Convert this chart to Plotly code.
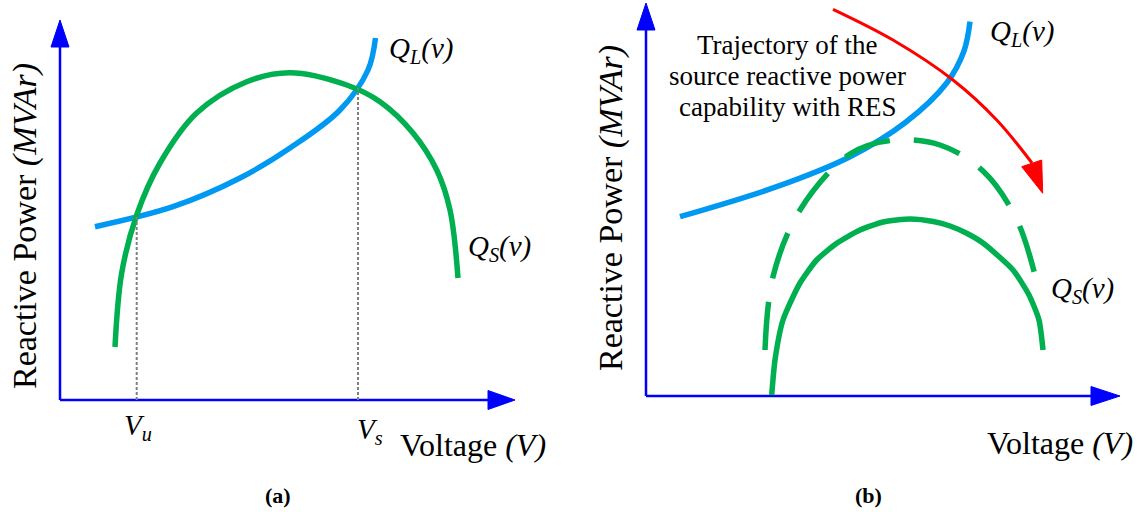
import plotly.graph_objects as go

# ---------------- data (arbitrary units, origin at the axes corner) ----------
# Panel (a)
ql_a_v = [35, 113, 180, 230, 280, 308, 315.5]
ql_a_q = [173.3, 193.3, 222, 252, 290, 330, 362]
qs_a_v = [55, 61.7, 76.7, 100, 136.7, 186.7, 230, 286.7, 320, 353, 376.7, 390, 398]
qs_a_q = [53, 127, 185, 237, 287, 318.3, 327.3, 315, 298.3, 267, 230, 190, 122]
v_u = 76.7
v_s = 298
q_u = 184
q_s = 312

# Panel (b)
ql_b_v = [34, 130.7, 204, 260, 300.7, 318, 324]
ql_b_q = [179.3, 209.3, 239.3, 274, 313, 345, 374.3]
qs_res_v = [119, 127, 154, 204, 245, 294, 337, 370, 389]
qs_res_q = [46, 119.3, 186, 242, 255.5, 251, 225, 178, 121]
qs_b_v = [125.7, 129, 137, 154, 170.7, 190.7, 214, 237.3, 264, 287.3, 304, 320.7, 337.3, 367, 383, 393, 397]
qs_b_q = [1, 36, 76, 113, 136, 152.7, 166, 174, 177, 174.5, 170, 162.7, 152.7, 126, 101, 76, 46]
traj_v = [187, 247, 307, 350.7, 386]
traj_q = [386.7, 356, 316, 276, 233]
head_v = [375.7, 395.7, 396.7, 375.7]
head_q = [229.3, 236, 202.7, 229.3]

# ---------------- styles ----------------
AX = "#0000FF"
BLUE = "#0099F2"
GREEN = "#00AF50"
RED = "#FF0000"
GRAY = "#7F7F7F"
FONT = "Liberation Serif"

fig = go.Figure()


def line(x, y, color, width, xa, ya, dash=None, shape="linear", smooth=1.0):
    fig.add_trace(go.Scatter(x=x, y=y, mode="lines", xaxis=xa, yaxis=ya,
                             line=dict(color=color, width=width, dash=dash, shape=shape, smoothing=smooth),
                             hoverinfo="skip", showlegend=False))


def tri(x, y, color, xa, ya):
    fig.add_trace(go.Scatter(x=x, y=y, mode="lines", fill="toself", fillcolor=color, xaxis=xa, yaxis=ya,
                             line=dict(color=color, width=1), hoverinfo="skip", showlegend=False))


# axes arrows
def axes_arrows(xa, ya, ytop, ybase, xtip, xbase):
    line([0, 0], [0, ybase], AX, 2.5, xa, ya)
    tri([-9, 9, 0, -9], [ybase, ybase, ytop, ybase], AX, xa, ya)
    line([0, xbase], [0, 0], AX, 2.5, xa, ya)
    tri([xbase, xbase, xtip, xbase], [9.5, -9.5, 0, 9.5], AX, xa, ya)


axes_arrows("x", "y", 380, 353, 455, 428)
axes_arrows("x2", "y2", 393, 366, 474, 445)

# panel a curves
line(ql_a_v, ql_a_q, BLUE, 5.5, "x", "y", shape="spline")
line(qs_a_v, qs_a_q, GREEN, 5.5, "x", "y", shape="spline")
line([v_u, v_u], [0, q_u], GRAY, 2, "x", "y", dash="3px,2px")
line([v_s, v_s], [0, q_s], GRAY, 2, "x", "y", dash="3px,2px")

# panel b curves
line(ql_b_v, ql_b_q, BLUE, 5.5, "x2", "y2", shape="spline")
line(qs_res_v, qs_res_q, GREEN, 5.5, "x2", "y2", dash="48px,24px", shape="spline")
line(qs_b_v, qs_b_q, GREEN, 5.5, "x2", "y2", shape="spline", smooth=0.6)
line(traj_v, traj_q, RED, 3, "x2", "y2", shape="spline")
tri(head_v, head_q, RED, "x2", "y2")

# ---------------- text ----------------
ann = []


def text(t, x, y, xr, yr, size=29, angle=0):
    ann.append(dict(text=t, x=x, y=y, xref=xr, yref=yr, showarrow=False, xanchor="center",
                    yanchor="middle", textangle=angle, font=dict(family=FONT, size=size, color="black")))


QL = "<i>Q</i><sub><i>L</i></sub><i>(v)</i>"
QS = "<i>Q</i><sub><i>S</i></sub><i>(v)</i>"
YT = "Reactive Power <i>(MVAr)</i>"
XT = "Voltage <i>(V)</i>"

text(QL, 361, 350, "x", "y")
text(QS, 439, 152, "x", "y")
text("<i>V</i><sub><i>u</i></sub>", 78, -27, "x", "y")
text("<i>V</i><sub><i>s</i></sub>", 310, -31, "x", "y")
text(XT, 413, -45, "x", "y", size=32)
text(YT, -35, 174, "x", "y", size=34, angle=-90)
text("<b>(a)</b>", 218, -95, "x", "y", size=22)

text(QL, 376, 363, "x2", "y2")
text(QS, 436, 106, "x2", "y2")
text(XT, 414, -47, "x2", "y2", size=32)
text(YT, -35, 188, "x2", "y2", size=34, angle=-90)
traj_lines = ["Trajectory of the", "source reactive power", "capability with RES"]
for i, t in enumerate(traj_lines):
    text(t, 141, 351 - 31 * i, "x2", "y2", size=27)
text("<b>(b)</b>", 222, -99, "x2", "y2", size=22)

hidden = dict(visible=False, fixedrange=True)
fig.update_layout(
    width=1137, height=512, margin=dict(l=0, r=0, t=0, b=0),
    paper_bgcolor="white", plot_bgcolor="white", showlegend=False,
    xaxis=dict(domain=[0, 560 / 1137], range=[-60, 500], **hidden),
    yaxis=dict(domain=[0, 1], range=[-112, 400], **hidden),
    xaxis2=dict(domain=[560 / 1137, 1], range=[-86, 491], **hidden),
    yaxis2=dict(domain=[0, 1], range=[-116, 396], anchor="x2", **hidden),
    annotations=ann,
)

fig.write_html("out.html")
